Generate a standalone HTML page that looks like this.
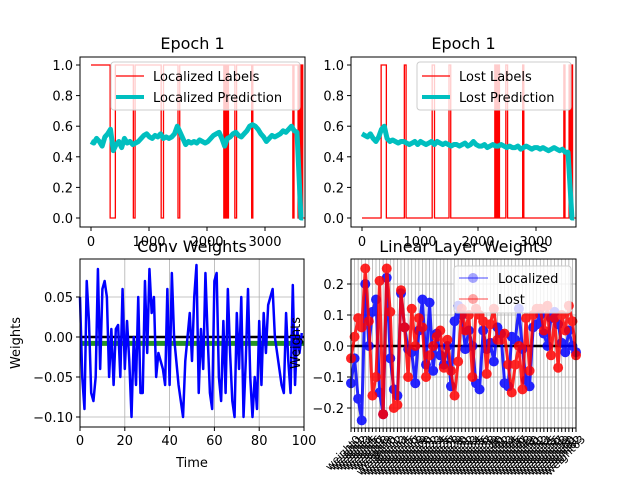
<!DOCTYPE html>
<html><head><meta charset="utf-8"><style>
html,body{margin:0;background:#fff;width:640px;height:480px;overflow:hidden}
svg{display:block;overflow:hidden;font-family:"DejaVu Sans","Liberation Sans",sans-serif}
</style></head><body>
<svg id="fig" width="640" height="480" viewBox="0 0 640 480" xmlns="http://www.w3.org/2000/svg"></svg>
<script>
// ---- data ----
const labelTimes = [0,330,420,730,760,1210,1250,1500,1530,2290,2310,2320,2340,2360,2370,2480,2510,2770,2790,3480,3500,3570,3590,3610,3630,3650,3680];
const locLabelVals = [1,0,1,0,1,0,1,0,1,0,1,0,1,0,1,0,1,0,1,0,1,0,1,0,1,0,0];
const lostLabelVals = [0,1,0,1,0,1,0,1,0,1,0,1,0,1,0,1,0,1,0,1,0,1,0,1,0,0,0];
const predStep = 48;
const locPred = [0.5,0.49,0.52,0.5,0.47,0.53,0.55,0.58,0.44,0.48,0.5,0.46,0.52,0.49,0.5,0.48,0.49,0.5,0.52,0.54,0.55,0.53,0.52,0.54,0.53,0.55,0.52,0.53,0.52,0.53,0.55,0.6,0.56,0.52,0.48,0.5,0.49,0.5,0.49,0.51,0.5,0.49,0.5,0.52,0.54,0.55,0.56,0.52,0.47,0.52,0.53,0.55,0.56,0.54,0.53,0.55,0.57,0.6,0.61,0.6,0.58,0.55,0.53,0.5,0.52,0.54,0.53,0.54,0.55,0.57,0.56,0.58,0.6,0.57,0.56];
const lostPred = [0.55,0.54,0.53,0.55,0.52,0.5,0.53,0.58,0.6,0.52,0.5,0.51,0.5,0.49,0.5,0.5,0.49,0.48,0.49,0.5,0.48,0.5,0.49,0.48,0.49,0.5,0.48,0.5,0.49,0.48,0.49,0.48,0.47,0.48,0.48,0.47,0.48,0.49,0.47,0.48,0.5,0.48,0.47,0.47,0.48,0.46,0.47,0.48,0.47,0.47,0.48,0.47,0.46,0.47,0.46,0.46,0.47,0.45,0.46,0.47,0.46,0.45,0.46,0.46,0.45,0.46,0.45,0.44,0.45,0.46,0.45,0.44,0.45,0.43,0.43];
const predTailTimes = [3620,3660];
const predTailVals = [0,0];
const epochXTicks = [0,1000,2000,3000];
const epochYTicks = [0,0.2,0.4,0.6,0.8,1.0];
const convWeights = [0.05,-0.05,-0.09,0.07,0.02,-0.07,-0.08,-0.05,0.085,-0.04,0.06,0.07,0.05,-0.05,0.01,-0.06,0.01,0.015,-0.05,0.06,-0.04,0.02,-0.03,-0.1,0.0,-0.06,0.05,-0.07,-0.07,0.07,-0.02,0.085,0.03,0.05,-0.05,-0.02,-0.03,-0.04,-0.06,0.06,-0.06,0.08,0.0,-0.03,-0.06,-0.08,-0.1,-0.03,0.0,0.03,-0.03,0.05,0.09,-0.07,0.01,-0.04,0.08,0.0,-0.07,-0.09,0.07,0.08,-0.05,-0.08,0.02,-0.07,0.06,-0.02,-0.08,-0.1,0.03,-0.04,0.05,-0.1,-0.03,0.06,-0.05,-0.1,-0.05,-0.09,0.02,-0.06,0.03,-0.02,0.04,0.05,0.06,0.0,-0.02,-0.04,-0.06,-0.07,0.03,-0.03,-0.07,0.065,-0.06,0.01,-0.02,0.005];
const convBias = -0.008;
const convXTicks = [0,20,40,60,80,100];
const convYTicks = [-0.10,-0.05,0.00,0.05];
const convYLabels = ["\u22120.10","\u22120.05","0.00","0.05"];
const linLocalized = [-0.12,-0.04,-0.17,-0.24,0.2,0.0,0.11,0.15,-0.15,-0.22,0.22,-0.04,-0.14,-0.16,0.17,0.06,-0.01,-0.02,-0.12,0.05,0.15,-0.06,0.14,-0.08,0.04,-0.03,-0.06,0.0,-0.13,0.08,0.13,0.1,-0.01,0.05,0.0,-0.12,-0.14,0.05,-0.01,0.01,-0.05,0.06,0.04,-0.12,-0.13,0.03,0.02,0.12,-0.01,-0.11,-0.13,0.06,0.07,0.1,0.04,0.0,0.09,0.11,0.07,0.01,-0.02,0.05,0.0,-0.02];
const linLost = [-0.04,0.03,0.09,0.06,0.25,0.08,-0.16,-0.1,0.21,-0.22,0.25,0.11,-0.2,-0.19,0.18,0.06,-0.1,0.12,0.0,0.09,0.06,-0.1,-0.03,0.0,0.03,0.05,-0.07,0.02,-0.08,-0.16,-0.05,0.12,0.05,0.1,-0.1,0.12,0.1,0.08,-0.09,0.07,0.12,0.02,0.02,0.04,-0.06,-0.15,-0.06,0.0,-0.14,0.09,-0.08,0.1,0.12,0.12,0.05,0.13,-0.03,0.09,-0.07,0.1,0.05,0.13,0.08,-0.03];
const linYTicks = [-0.2,-0.1,0.0,0.1,0.2];
const linYLabels = ["\u22120.2","\u22120.1","0.0","0.1","0.2"];

// ---- helpers ----
const NS="http://www.w3.org/2000/svg";
const svg=document.getElementById('fig');
function el(tag,attrs,parent){const e=document.createElementNS(NS,tag);for(const k in attrs)e.setAttribute(k,attrs[k]);(parent||svg).appendChild(e);return e;}
function txt(s,attrs,parent){const e=el('text',attrs,parent);e.textContent=s;return e;}
function lin(d0,d1,p0,p1){return v=>p0+(v-d0)*(p1-p0)/(d1-d0);}

function epochPanel(ox,name,title,labelVals,pred,labelName,predName){
  const L=ox,R=ox+225,T=57,B=227;
  const sx=lin(0,3000,L+11,L+185), sy=lin(0,1,218,65);
  const g=el('g',{});
  
  
  let d='';
  for(let i=0;i<labelTimes.length;i++){
    const x=sx(labelTimes[i]);
    if(i===0)d+='M'+x+','+sy(labelVals[i]);
    else d+='L'+x+','+sy(labelVals[i-1])+'L'+x+','+sy(labelVals[i]);
  }
  const lp=el('path',{d:d,fill:'none',stroke:'#ff0000','stroke-width':1.3},g);
  
  
  let pd='';
  pred.forEach((v,i)=>{pd+=(i?'L':'M')+sx(i*predStep)+','+sy(v);});
  predTailTimes.forEach((t,i)=>{pd+='L'+sx(t)+','+sy(predTailVals[i]);});
  const pp=el('path',{d:pd,fill:'none',stroke:'#00bfbf','stroke-width':5,'stroke-linejoin':'round'},g);
  
  
  el('rect',{x:L,y:T,width:R-L,height:B-T,fill:'none',stroke:'#000','stroke-width':1},g);
  epochYTicks.forEach(v=>{const y=sy(v);el('line',{x1:L-4,x2:L,y1:y,y2:y,stroke:'#000'},g);
    const t=txt(v.toFixed(1),{x:L-7,y:y+5,'font-size':13,'text-anchor':'end'},g);
    });
  epochXTicks.forEach(v=>{const x=sx(v);el('line',{x1:x,x2:x,y1:B,y2:B+4,stroke:'#000'},g);
    const t=txt(String(v),{x:x,y:B+19,'font-size':13,'text-anchor':'middle'},g);
    });
  const tt=txt(title,{x:(L+R)/2,y:T-8,'font-size':16,'text-anchor':'middle'},g);
  
  const lx=ox+(name==='localized-panel'?31:66), lw=name==='localized-panel'?189:154;
  const lg=el('g',{},g);
  
  
  el('rect',{x:lx,y:62,width:lw,height:48,rx:3,fill:'rgba(255,255,255,0.8)',stroke:'#ccc'},lg);
  el('line',{x1:lx+5,x2:lx+33,y1:76,y2:76,stroke:'#ff0000','stroke-width':1.3},lg);
  el('line',{x1:lx+5,x2:lx+33,y1:97,y2:97,stroke:'#00bfbf','stroke-width':4},lg);
  txt(labelName,{x:lx+42,y:81,'font-size':13},lg);
  txt(predName,{x:lx+42,y:102,'font-size':13},lg);
}
epochPanel(80,'localized-panel','Epoch 1',locLabelVals,locPred,'Localized Labels','Localized Prediction');
epochPanel(351,'lost-panel','Epoch 1',lostLabelVals,lostPred,'Lost Labels','Lost Prediction');

// ---- conv panel ----
(function(){
  const L=80,R=304,T=259,B=427;
  const sx=lin(0,100,L,R), sy=lin(0,0.05,337,297);
  const g=el('g',{});
  
  
  convXTicks.forEach(v=>el('line',{x1:sx(v),x2:sx(v),y1:T,y2:B,stroke:'#b0b0b0','stroke-width':0.8},g));
  convYTicks.forEach(v=>el('line',{x1:L,x2:R,y1:sy(v),y2:sy(v),stroke:'#b0b0b0','stroke-width':0.8},g));
  el('line',{x1:L,x2:R,y1:sy(0),y2:sy(0),stroke:'#000','stroke-width':2.5},g);
  const gb=el('line',{x1:L,x2:R,y1:sy(convBias),y2:sy(convBias),stroke:'#008000','stroke-width':5,opacity:0.85},g);
  
  let d='';convWeights.forEach((v,i)=>{d+=(i?'L':'M')+sx(i)+','+sy(v);});
  const p=el('path',{d:d,fill:'none',stroke:'#0000ff','stroke-width':2.5,'stroke-linejoin':'round'},g);
  
  el('rect',{x:L,y:T,width:R-L,height:B-T,fill:'none',stroke:'#000'},g);
  convYTicks.forEach((v,i)=>{const y=sy(v);el('line',{x1:L-4,x2:L,y1:y,y2:y,stroke:'#000'},g);
    const t=txt(convYLabels[i],{x:L-7,y:y+5,'font-size':13,'text-anchor':'end'},g);
    });
  convXTicks.forEach(v=>{const x=sx(v);el('line',{x1:x,x2:x,y1:B,y2:B+4,stroke:'#000'},g);
    const t=txt(String(v),{x:x,y:B+18,'font-size':13,'text-anchor':'middle'},g);
    });
  const xt=txt('Time',{x:(L+R)/2,y:467,'font-size':13,'text-anchor':'middle'},g);
  
  const yt=txt('Weights',{x:0,y:0,'font-size':13,'text-anchor':'middle',transform:'translate(20,343) rotate(-90)'},g);
  
  const tt=txt('Conv Weights',{x:(L+R)/2,y:252,'font-size':16,'text-anchor':'middle'},g);
  
})();

// ---- linear panel ----
(function(){
  const L=351,R=576,T=259,B=428;
  const n=linLocalized.length;
  const sx=lin(0,n-1,L,R), sy=lin(0,0.2,346,284);
  const g=el('g',{});
  
  
  for(let i=0;i<n;i++)el('line',{x1:sx(i),x2:sx(i),y1:T,y2:B,stroke:'#b0b0b0','stroke-width':0.8},g);
  linYTicks.forEach(v=>el('line',{x1:L,x2:R,y1:sy(v),y2:sy(v),stroke:'#b0b0b0','stroke-width':0.8},g));
  el('line',{x1:L,x2:R,y1:sy(0),y2:sy(0),stroke:'#000','stroke-width':2.5},g);
  function series(vals,color,nm){
    const sg=el('g',{opacity:0.85},g);
    
    
    let d='';vals.forEach((v,i)=>{d+=(i?'L':'M')+sx(i)+','+sy(v);});
    el('path',{d:d,fill:'none',stroke:color,'stroke-width':3,'stroke-linejoin':'round'},sg);
    vals.forEach((v,i)=>{const c=el('circle',{cx:sx(i),cy:sy(v),r:5,fill:color},sg);
      });
  }
  series(linLocalized,'#0000ff','localized-series');
  series(linLost,'#ff0000','lost-series');
  el('rect',{x:L,y:T,width:R-L,height:B-T,fill:'none',stroke:'#000'},g);
  linYTicks.forEach((v,i)=>{const y=sy(v);el('line',{x1:L-4,x2:L,y1:y,y2:y,stroke:'#000'},g);
    const t=txt(linYLabels[i],{x:L-7,y:y+5,'font-size':13,'text-anchor':'end'},g);
    });
  for(let i=0;i<n;i++){const x=sx(i);el('line',{x1:x,x2:x,y1:B,y2:B+4,stroke:'#000'},g);
    const t=txt('weight'+i,{x:0,y:0,'font-size':11,'text-anchor':'end',transform:'translate('+(x+10)+','+(B+12)+') rotate(-45)'},g);
    }
  const yt=txt('Weights',{x:0,y:0,'font-size':13,'text-anchor':'middle',transform:'translate(300,343) rotate(-90)'},g);
  
  const tt=txt('Linear Layer Weights',{x:(L+R)/2,y:252,'font-size':16,'text-anchor':'middle'},g);
  
  const lg=el('g',{},g);
  
  
  el('rect',{x:454,y:266,width:117,height:47,rx:3,fill:'rgba(255,255,255,0.8)',stroke:'#ccc'},lg);
  el('line',{x1:459,x2:488,y1:278,y2:278,stroke:'#0000ff','stroke-width':2,opacity:0.35},lg);
  el('circle',{cx:473,cy:278,r:5,fill:'#0000ff',opacity:0.35},lg);
  el('line',{x1:459,x2:488,y1:299,y2:299,stroke:'#ff0000','stroke-width':2,opacity:0.35},lg);
  el('circle',{cx:473,cy:299,r:5,fill:'#ff0000',opacity:0.35},lg);
  txt('Localized',{x:498,y:283,'font-size':13},lg);
  txt('Lost',{x:498,y:304,'font-size':13},lg);
})();
</script>
</body></html>
